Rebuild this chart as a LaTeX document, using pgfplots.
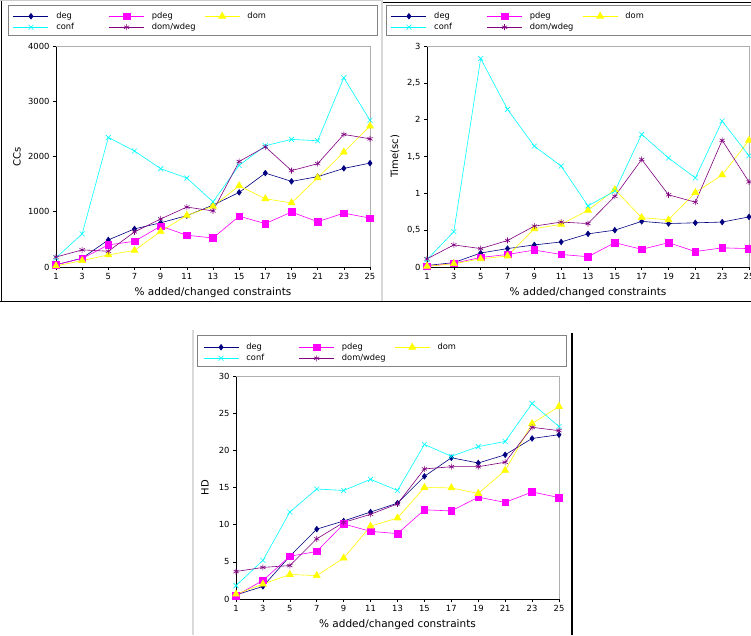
\documentclass[border=0pt]{standalone}
\usepackage{fontspec}
\setmainfont{DejaVu Sans}
\usepackage{pgfplots}
\usepackage{pgfplotstable}
\pgfplotsset{compat=1.18}
\definecolor{cdeg}{RGB}{0,0,128}
\definecolor{cpdeg}{RGB}{255,0,255}
\definecolor{cdom}{RGB}{255,255,0}
\definecolor{cconf}{RGB}{0,255,255}
\definecolor{cdw}{RGB}{128,0,128}
\definecolor{framegray}{RGB}{175,175,175}
\definecolor{boxgray}{RGB}{130,130,130}

\pgfplotstableread{
x  deg  pdeg dom  conf dw
1  40   40   20   165  180
3  160  155  115  600  310
5  490  400  220  2345 285
7  690  465  300  2100 635
9  800  740  645  1780 870
11 930  575  935  1610 1085
13 1120 525  1100 1180 1015
15 1350 920  1470 1840 1910
17 1700 785  1235 2195 2175
19 1550 995  1160 2310 1745
21 1635 820  1615 2285 1870
23 1785 975  2080 3425 2400
25 1880 885  2550 2655 2320
}\cctable

\pgfplotstableread{
x  deg  pdeg dom   conf dw
1  0.02 0.01 0.01  0.10 0.11
3  0.06 0.05 0.045 0.48 0.30
5  0.19 0.13 0.11  2.83 0.25
7  0.25 0.17 0.15  2.14 0.36
9  0.30 0.23 0.52  1.64 0.555
11 0.34 0.17 0.58  1.37 0.61
13 0.45 0.14 0.77  0.83 0.59
15 0.50 0.33 1.05  1.03 0.96
17 0.62 0.24 0.67  1.80 1.46
19 0.59 0.33 0.64  1.48 0.98
21 0.60 0.21 1.01  1.21 0.88
23 0.61 0.26 1.25  1.98 1.72
25 0.68 0.25 1.72  1.51 1.155
}\timetable

\pgfplotstableread{
x  deg  pdeg  dom   conf dw
1  0.55 0.45  0.65  1.8  3.7
3  1.7  2.5   2.0   5.2  4.25
5  5.75 5.75  3.3   11.7 4.5
7  9.4  6.4   3.15  14.8 8.1
9  10.5 10.1  5.5   14.6 10.3
11 11.7 9.1   9.8   16.1 11.4
13 12.9 8.8   10.9  14.6 12.8
15 16.5 12.0  15.0  20.8 17.5
17 19.0 11.85 14.95 19.2 17.8
19 18.3 13.7  14.2  20.5 17.8
21 19.4 13.0  17.3  21.2 18.4
23 21.6 14.4  23.6  26.3 23.1
25 22.1 13.65 25.9  23.2 22.65
}\hdtable

\pgfplotsset{
  panel/.style={
    scale only axis,
    anchor=south west,
    xmin=1, xmax=25, ymin=0,
    xtick={1,3,...,25},
    axis x line*=bottom, axis y line*=left,
    axis line style={black, line width=0.6pt, -},
    tick align=outside,
    major tick length=3pt,
    every tick/.style={black, line width=0.6pt},
    /pgf/number format/assume math mode=true,
    /pgf/number format/use comma,
    /pgf/number format/1000 sep={},
    tick label style={font=\fontsize{8.4}{9}\selectfont},
    xlabel={\% added/changed constraints},
    every axis x label/.style={at={(rel axis cs:0.5,0)}, yshift=-26pt, anchor=center, font=\fontsize{10.5}{12}\selectfont},
    clip=false,
    legend columns=3,
    legend cell align=left,
    legend image code/.code={\draw[mark repeat=2,mark phase=2,##1] plot coordinates {(0pt,0pt) (17.5pt,0pt) (35pt,0pt)};},
    legend style={draw=none, fill=none, inner sep=0pt, row sep=2pt, column sep=0pt,
      font=\fontsize{8.3}{9}\selectfont, anchor=north west,
      nodes={inner sep=0.5pt, text height=6pt, text depth=2pt},
      /tikz/every odd column/.append style={column sep=7pt}},
  },
  ylab/.style={every axis y label/.style={at={(rel axis cs:0,0.5)}, xshift=#1, rotate=90, anchor=center, font=\fontsize{10}{12}\selectfont}},
  sdeg/.style={color=cdeg, line width=0.6pt, mark=diamond*, mark size=2.8pt, mark options={solid, fill=cdeg}},
  spdeg/.style={color=cpdeg, line width=0.6pt, mark=square*, mark size=3.3pt, mark options={solid, fill=cpdeg}},
  sdom/.style={color=cdom, line width=0.6pt, mark=triangle*, mark size=4pt, mark options={solid, fill=cdom}},
  sconf/.style={color=cconf, line width=0.6pt, mark=x, mark size=3.5pt, mark options={solid}},
  sdw/.style={color=cdw, line width=0.6pt, mark=asterisk, mark size=3pt, mark options={solid}},
}

\newcommand{\lt}[1]{\makebox[52pt][l]{#1}}

\begin{document}
\begin{tikzpicture}
\useasboundingbox (0pt,0pt) rectangle (751pt,-635pt);

% ---------- top-left: CCs ----------
\begin{axis}[panel, at={(56pt,-267pt)}, width=314pt, height=221pt,
  ymax=4000, ytick={0,1000,...,4000}, ylabel={CCs}, ylab=-39pt,
  legend style={at={(-0.137,1.156)}}]
\addplot[sdeg] table[x=x,y=deg]{\cctable}; \addlegendentry{\lt{deg}}
\addplot[spdeg] table[x=x,y=pdeg]{\cctable}; \addlegendentry{\lt{pdeg}}
\addplot[sdom] table[x=x,y=dom]{\cctable}; \addlegendentry{\lt{dom}}
\addplot[sconf] table[x=x,y=conf]{\cctable}; \addlegendentry{\lt{conf}}
\addplot[sdw] table[x=x,y=dw]{\cctable}; \addlegendentry{\lt{dom/wdeg}}
\draw[framegray, line width=0.6pt] (rel axis cs:0,1) -- (rel axis cs:1,1) -- (rel axis cs:1,0);
\end{axis}

% ---------- top-right: Time ----------
\begin{axis}[panel, at={(427pt,-267pt)}, width=322pt, height=221pt,
  ymax=3, ytick={0,0.5,...,3}, ylabel={Time(sc)}, ylab=-32pt,
  legend style={at={(-0.112,1.156)}}]
\addplot[sdeg] table[x=x,y=deg]{\timetable}; \addlegendentry{\lt{deg}}
\addplot[spdeg] table[x=x,y=pdeg]{\timetable}; \addlegendentry{\lt{pdeg}}
\addplot[sdom] table[x=x,y=dom]{\timetable}; \addlegendentry{\lt{dom}}
\addplot[sconf] table[x=x,y=conf]{\timetable}; \addlegendentry{\lt{conf}}
\addplot[sdw] table[x=x,y=dw]{\timetable}; \addlegendentry{\lt{dom/wdeg}}
\draw[framegray, line width=0.6pt] (rel axis cs:0,1) -- (rel axis cs:1,1) -- (rel axis cs:1,0);
\end{axis}

% ---------- bottom: HD ----------
\begin{axis}[panel, at={(236pt,-599pt)}, width=323pt, height=223pt,
  ymax=30, ytick={0,5,...,30}, ylabel={HD}, ylab=-31pt,
  legend style={at={(-0.102,1.150)}}]
\addplot[sdeg] table[x=x,y=deg]{\hdtable}; \addlegendentry{\lt{deg}}
\addplot[spdeg] table[x=x,y=pdeg]{\hdtable}; \addlegendentry{\lt{pdeg}}
\addplot[sdom] table[x=x,y=dom]{\hdtable}; \addlegendentry{\lt{dom}}
\addplot[sconf] table[x=x,y=conf]{\hdtable}; \addlegendentry{\lt{conf}}
\addplot[sdw] table[x=x,y=dw]{\hdtable}; \addlegendentry{\lt{dom/wdeg}}
\draw[framegray, line width=0.6pt] (rel axis cs:0,1) -- (rel axis cs:1,1) -- (rel axis cs:1,0);
\end{axis}

% ---------- frames ----------
\draw[black, line width=0.9pt] (1pt,0pt) -- (1pt,-301.5pt);
\draw[black, line width=0.9pt] (0pt,-301.5pt) -- (751pt,-301.5pt);
\draw[black, line width=0.9pt] (383pt,-2pt) -- (751pt,-2pt);
\draw[gray!40, line width=0.6pt] (0pt,-0.5pt) -- (383pt,-0.5pt);
\draw[gray!30, line width=1.2pt] (382pt,0pt) -- (382pt,-301pt);
\draw[boxgray, line width=0.8pt] (8pt,-5pt) rectangle (377pt,-35pt);
\draw[boxgray, line width=0.8pt] (386pt,-5pt) rectangle (755pt,-35pt);
\draw[boxgray, line width=0.8pt] (197pt,-335pt) rectangle (566pt,-366pt);
\draw[gray!30, line width=1.2pt] (193pt,-330pt) -- (193pt,-635pt);
\draw[black, line width=1.2pt] (572pt,-333pt) -- (572pt,-635pt);
\end{tikzpicture}
\end{document}
